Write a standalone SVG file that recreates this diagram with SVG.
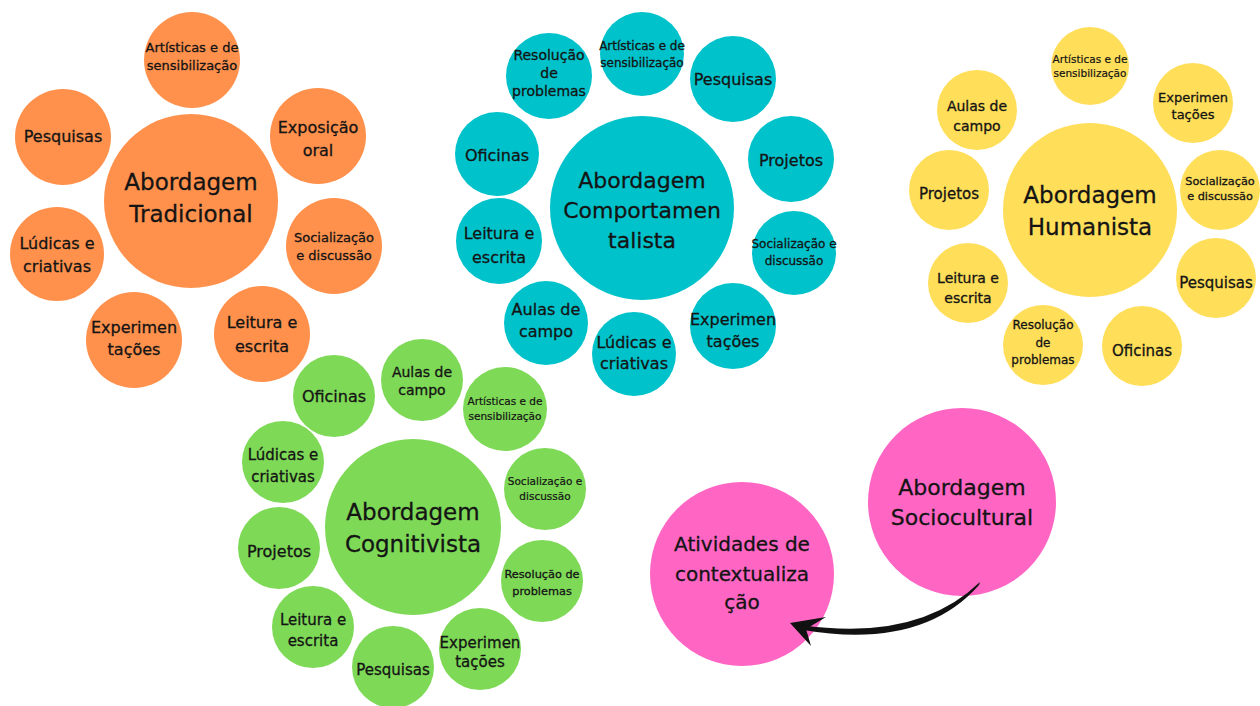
<svg xmlns="http://www.w3.org/2000/svg" width="1260" height="706" viewBox="0 0 1260 706">
<style>
text{font-family:"DejaVu Sans","Liberation Sans",sans-serif;fill:#141414;stroke:#141414;stroke-width:0.3px;text-anchor:middle}
.o{fill:#FF914D}.t{fill:#00C2CB}.y{fill:#FFDE59}.g{fill:#7ED957}.p{fill:#FF66C4}
.b23{font-size:23px}.b22{font-size:22px}.b20{font-size:20px}
.m16{font-size:16px}.m15{font-size:15px}.m14{font-size:14px}
.s13{font-size:13px}.s12{font-size:12px}.s11{font-size:11.3px}.s10{font-size:10.5px;stroke-width:0.2px}
</style>
<defs/>
<rect width="1260" height="706" fill="#ffffff"/>

<!-- Orange: Abordagem Tradicional -->
<g id="tradicional">
<circle class="o" cx="191" cy="201" r="87"/>
<text class="b23" x="191" y="190">Abordagem</text>
<text class="b23" x="191" y="222">Tradicional</text>
</g>
<g id="trad-artisticas"><circle class="o" cx="192" cy="60" r="48"/><text class="s13" x="192" y="52">Artísticas e de</text><text class="s13" x="192" y="70">sensibilização</text></g>
<g id="trad-pesquisas"><circle class="o" cx="63" cy="137" r="48"/><text class="m16" x="63" y="142">Pesquisas</text></g>
<g id="trad-exposicao"><circle class="o" cx="318" cy="136" r="48"/><text class="m16" x="318" y="133">Exposição</text><text class="m16" x="318" y="156">oral</text></g>
<g id="trad-socializacao"><circle class="o" cx="334" cy="246" r="48"/><text class="s13" x="334" y="242">Socialização</text><text class="s13" x="334" y="260">e discussão</text></g>
<g id="trad-leitura"><circle class="o" cx="262" cy="334" r="48"/><text class="m16" x="262" y="328">Leitura e</text><text class="m16" x="262" y="352">escrita</text></g>
<g id="trad-experimentacoes"><circle class="o" cx="134" cy="340" r="48"/><text class="m16" x="134" y="333">Experimen</text><text class="m16" x="134" y="355">tações</text></g>
<g id="trad-ludicas"><circle class="o" cx="57" cy="254" r="47"/><text class="m16" x="57" y="249">Lúdicas e</text><text class="m16" x="57" y="272">criativas</text></g>

<!-- Teal: Abordagem Comportamentalista -->
<g id="comportamentalista">
<circle class="t" cx="642" cy="208" r="92"/>
<text class="b22" x="642" y="188">Abordagem</text>
<text class="b22" x="642" y="218">Comportamen</text>
<text class="b22" x="642" y="248">talista</text>
</g>
<g id="comp-artisticas"><circle class="t" cx="642" cy="54" r="42"/><text class="s12" x="642" y="50">Artísticas e de</text><text class="s12" x="642" y="67">sensibilização</text></g>
<g id="comp-resolucao"><circle class="t" cx="549" cy="76" r="43"/><text class="m14" x="549" y="60">Resolução</text><text class="m14" x="549" y="78">de</text><text class="m14" x="549" y="96">problemas</text></g>
<g id="comp-pesquisas"><circle class="t" cx="733" cy="79" r="43"/><text class="m16" x="733" y="85">Pesquisas</text></g>
<g id="comp-oficinas"><circle class="t" cx="497" cy="154" r="42"/><text class="m16" x="497" y="161">Oficinas</text></g>
<g id="comp-projetos"><circle class="t" cx="791" cy="159" r="43"/><text class="m16" x="791" y="166">Projetos</text></g>
<g id="comp-leitura"><circle class="t" cx="499" cy="241" r="43"/><text class="m16" x="499" y="239">Leitura e</text><text class="m16" x="499" y="263">escrita</text></g>
<g id="comp-socializacao"><circle class="t" cx="794" cy="253" r="42"/><text class="s12" x="794" y="248">Socialização e</text><text class="s12" x="794" y="265">discussão</text></g>
<g id="comp-aulas"><circle class="t" cx="546" cy="323" r="42"/><text class="m16" x="546" y="315">Aulas de</text><text class="m16" x="546" y="337">campo</text></g>
<g id="comp-ludicas"><circle class="t" cx="634" cy="354" r="42"/><text class="m16" x="634" y="348">Lúdicas e</text><text class="m16" x="634" y="369">criativas</text></g>
<g id="comp-experimentacoes"><circle class="t" cx="733" cy="326" r="43"/><text class="m16" x="733" y="325">Experimen</text><text class="m16" x="733" y="347">tações</text></g>

<!-- Yellow: Abordagem Humanista -->
<g id="humanista">
<circle class="y" cx="1090" cy="210" r="87"/>
<text class="b23" x="1090" y="203">Abordagem</text>
<text class="b23" x="1090" y="235">Humanista</text>
</g>
<g id="hum-artisticas"><circle class="y" cx="1090" cy="66" r="39"/><text class="s10" x="1090" y="63">Artísticas e de</text><text class="s10" x="1090" y="77">sensibilização</text></g>
<g id="hum-aulas"><circle class="y" cx="977" cy="110" r="40"/><text class="m14" x="977" y="111">Aulas de</text><text class="m14" x="977" y="131">campo</text></g>
<g id="hum-experimentacoes"><circle class="y" cx="1193" cy="103" r="40"/><text class="s13" x="1193" y="102">Experimen</text><text class="s13" x="1193" y="119">tações</text></g>
<g id="hum-projetos"><circle class="y" cx="949" cy="190" r="40"/><text class="m15" x="949" y="199">Projetos</text></g>
<g id="hum-socializacao"><circle class="y" cx="1220" cy="190" r="40"/><text class="s11" x="1220" y="185">Socialização</text><text class="s11" x="1220" y="200">e discussão</text></g>
<g id="hum-leitura"><circle class="y" cx="968" cy="283" r="40"/><text class="m14" x="968" y="283">Leitura e</text><text class="m14" x="968" y="303">escrita</text></g>
<g id="hum-pesquisas"><circle class="y" cx="1216" cy="278" r="40"/><text class="m15" x="1216" y="288">Pesquisas</text></g>
<g id="hum-resolucao"><circle class="y" cx="1043" cy="345" r="40"/><text class="s12" x="1043" y="329">Resolução</text><text class="s12" x="1043" y="347">de</text><text class="s12" x="1043" y="364">problemas</text></g>
<g id="hum-oficinas"><circle class="y" cx="1142" cy="346" r="40"/><text class="m15" x="1142" y="356">Oficinas</text></g>

<!-- Green: Abordagem Cognitivista -->
<g id="cognitivista">
<circle class="g" cx="413" cy="527" r="88"/>
<text class="b23" x="413" y="520">Abordagem</text>
<text class="b23" x="413" y="552">Cognitivista</text>
</g>
<g id="cog-aulas"><circle class="g" cx="422" cy="380" r="41"/><text class="m14" x="422" y="377">Aulas de</text><text class="m14" x="422" y="395">campo</text></g>
<g id="cog-oficinas"><circle class="g" cx="334" cy="396" r="41"/><text class="m16" x="334" y="402">Oficinas</text></g>
<g id="cog-artisticas"><circle class="g" cx="505" cy="409" r="42"/><text class="s10" x="505" y="405">Artísticas e de</text><text class="s10" x="505" y="420">sensibilização</text></g>
<g id="cog-ludicas"><circle class="g" cx="283" cy="462" r="41"/><text class="m15" x="283" y="460">Lúdicas e</text><text class="m15" x="283" y="482">criativas</text></g>
<g id="cog-socializacao"><circle class="g" cx="545" cy="489" r="41"/><text class="s10" x="545" y="485">Socialização e</text><text class="s10" x="545" y="500">discussão</text></g>
<g id="cog-projetos"><circle class="g" cx="279" cy="548" r="41"/><text class="m16" x="279" y="557">Projetos</text></g>
<g id="cog-resolucao"><circle class="g" cx="542" cy="581" r="41"/><text class="s11" x="542" y="578">Resolução de</text><text class="s11" x="542" y="595">problemas</text></g>
<g id="cog-leitura"><circle class="g" cx="313" cy="627" r="41"/><text class="m15" x="313" y="625">Leitura e</text><text class="m15" x="313" y="646">escrita</text></g>
<g id="cog-experimentacoes"><circle class="g" cx="480" cy="649" r="41"/><text class="m15" x="480" y="648">Experimen</text><text class="m15" x="480" y="667">tações</text></g>
<g id="cog-pesquisas"><circle class="g" cx="393" cy="667" r="41"/><text class="m15" x="393" y="675">Pesquisas</text></g>

<!-- Pink -->
<g id="sociocultural">
<circle class="p" cx="962" cy="502" r="94"/>
<text class="b22" x="962" y="495">Abordagem</text>
<text class="b22" x="962" y="525">Sociocultural</text>
</g>
<g id="contextualizacao">
<circle class="p" cx="742" cy="574" r="92"/>
<text class="b20" x="742" y="551">Atividades de</text>
<text class="b20" x="742" y="581">contextualiza</text>
<text class="b20" x="742" y="609">ção</text>
</g>

<!-- Connectors -->
<g id="connectors">
<path d="M 980 582 Q 918 642 801 625 L 803 630 Q 922 650 979 585 Z" fill="#111"/>
<polygon points="790,623 826,617 806,629 811,646" fill="#111"/>
</g>
</svg>
